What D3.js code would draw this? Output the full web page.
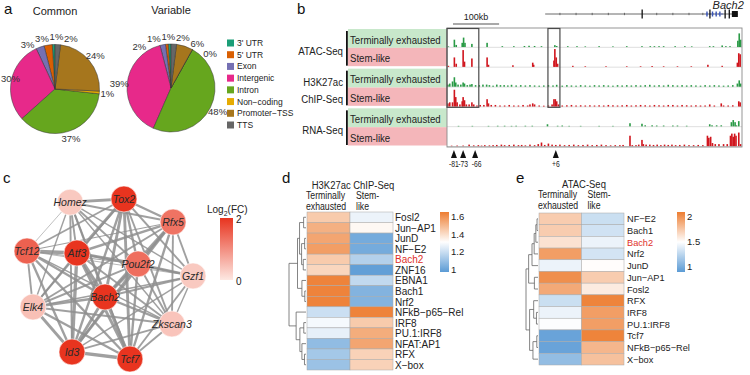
<!DOCTYPE html>
<html><head><meta charset="utf-8">
<script src="https://cdn.jsdelivr.net/npm/d3@7"></script>
<style>
body{margin:0;background:#fff}
svg{display:block}
text{font-family:"Liberation Sans",Arial,Helvetica,sans-serif}
</style>
</head><body>
<svg id="c" width="750" height="375"></svg>
<script>
// ---------------- DATA ----------------
// panel a
const annotCategories = ["3' UTR","5' UTR","Exon","Intergenic","Intron","Non\u2212coding","Promoter\u2212TSS","TTS"];
const commonPct   = [1,3,3,30,37,1,24,2];
const variablePct = [1,1,2,39,48,0,6,2];
const pieTitles = ["Common","Variable"];

// panel b  (positions in kb across the locus, signal heights in arbitrary units)
const trackGroups = ["ATAC-Seq","H3K27ac\nChIP-Seq","RNA-Seq"];
const trackConditions = ["Terminally exhausted","Stem-like"];
const atacTex = [[3,0.6],[16,7],[20,2],[33,4],[36,9],[39,4],[54,3],[87,4],[120,0.8],[145,0.8],[168,1],[178,1.2],[190,1],[205,0.8],[234,1.8],[238,1],[262,0.8],[282,0.8],[300,0.6],[330,0.8],[360,0.6],[390,0.8],[423,0.8],[441,0.8],[450,0.8],[460,0.8],[470,0.8],[495,0.8],[516,0.8],[531,0.6],[570,0.8],[578,0.8],[597,1.5],[605,0.8],[614,0.8],[631,6],[634,13],[637,7]];
const atacStem = [[3,1],[16,9],[20,3],[35,16],[38,5],[54,8],[87,9],[90,2],[143,1.5],[186,4],[188,2],[232,6],[234,17],[237,9],[240,3],[273,1],[300,0.6],[345,0.6],[390,0.6],[420,0.6],[445,0.8],[470,0.6],[500,0.6],[530,0.6],[566,2],[597,1],[630,4],[633,13],[636,12]];
const h3Tex = [[2,2],[6,3],[12,5],[16,9],[19,4],[24,2],[30,2],[35,4],[38,3],[44,1.5],[50,2],[54,2.5],[62,1.5],[70,1.5],[78,2],[86,2],[92,1.5],[100,1],[108,2],[116,1.5],[124,1.5],[132,1.2],[140,1.8],[150,1.2],[160,1.5],[170,1.2],[180,1.5],[190,1.2],[200,1],[210,1.2],[220,1.5],[230,1.2],[238,1.8],[250,1],[260,1.5],[270,1.2],[280,1],[290,1.5],[300,1.2],[310,1],[320,1.5],[330,1.2],[340,1.5],[350,1.2],[360,1],[370,1.5],[380,1.2],[390,1.5],[400,1.2],[410,1.5],[420,1.2],[430,1.5],[440,1.8],[450,1.2],[460,1.5],[470,1.2],[480,1.8],[490,1.5],[500,1.2],[510,1.5],[520,1.2],[530,1.5],[540,1.2],[550,1],[560,1.5],[570,1.2],[580,1.5],[590,1.2],[600,1],[610,1.2],[620,1.5],[630,3],[634,6],[637,3]];
const h3Stem = [[2,3],[6,4],[12,4],[16,16],[19,9],[22,4],[28,2],[33,5],[35,9],[38,6],[42,2],[48,2],[54,4],[58,2],[65,1],[72,1.5],[80,1.5],[87,7],[90,3],[96,1.5],[105,1.5],[115,1],[125,1],[135,1.5],[145,1],[155,1],[165,1.5],[175,1],[180,2],[186,3],[190,2],[200,1],[210,0.8],[220,1],[228,2],[232,7],[235,7],[238,5],[242,2],[250,1],[260,1.2],[270,1.5],[280,1],[290,1.2],[300,1],[310,1.2],[320,1],[330,1.2],[340,1],[350,1.5],[360,1.2],[370,1],[380,1.2],[390,1.5],[400,1],[410,1.2],[420,1.5],[430,1.2],[440,1],[450,1.5],[460,1.2],[470,1],[480,1.5],[490,1.5],[500,1],[510,1.5],[520,1.2],[530,1],[540,1.2],[550,1],[560,1],[570,2],[580,1],[595,3],[600,1],[610,1],[620,1.2],[633,5],[636,4]];
const rnaTex = [[25,0.5],[55,0.5],[90,0.5],[110,0.6],[125,0.6],[140,0.5],[150,0.6],[170,0.6],[185,0.6],[218,2],[240,0.6],[250,0.8],[265,0.5],[290,0.5],[330,0.5],[360,0.5],[397,3],[423,2.5],[430,1],[445,1],[455,0.8],[470,0.8],[490,0.8],[500,0.8],[520,0.6],[570,2],[575,1],[585,1],[595,1],[617,4],[621,6],[625,4],[628,1],[633,5]];
const rnaStem = [[10,0.5],[22,0.6],[35,0.6],[48,1.5],[58,0.8],[68,1],[75,0.6],[82,1],[92,0.8],[100,1],[108,1.2],[118,1.5],[125,1],[135,1.2],[145,1.5],[155,1],[162,1.2],[170,0.8],[180,1.5],[190,1],[198,2],[205,3.5],[212,1.2],[220,2.5],[228,1.5],[236,1.2],[245,1.5],[255,1],[265,1.2],[275,1.5],[285,1],[295,1.2],[305,1.5],[315,1],[325,1.2],[335,1.5],[345,1],[355,0.8],[365,1],[375,1],[382,1.2],[397,10],[402,1],[410,1],[416,1.5],[423,6],[426,2],[432,1.5],[440,1.5],[448,1.2],[456,1.5],[464,1],[472,1.5],[480,1.2],[488,1.5],[496,1],[505,1.2],[515,1.5],[525,1],[535,1],[545,1.2],[555,1],[565,10],[568,8],[572,9],[576,3],[582,2],[590,2],[600,2],[608,2],[615,10],[618,12],[621,9],[624,12],[627,10],[633,13],[637,2]];
const geneSpan = [213,631];
const geneStrandMarks = [245,280,315,350,385,455,490,525,555];
const geneExons = [[422,424,"cds"],[569,571,"cds"],[602,604,"cds"],[611,613,"cds"],[618,631,"utr"]];
const geneMinorExons = [564,576,584,592];
const geneBlueSpan = [562,600];
const highlightRegions = [[0,69],[219,245]];
const enhancerPos = [15,35,61,236];
const enhancerLabels = ["-81","-73","-66","+6"];

// panel c
const tfNodes = ["Homez","Tox2","Rfx5","Tcf12","Atf3","Pou2f2","Gzf1","Bach2","Elk4","Zkscan3","Id3","Tcf7"];
const tfLog2FC = [0.35,2,1.3,1.5,2,1.35,0.35,2,0.45,0.4,2,2];
const nodeLayoutX = [0.26,0.584,0.88,0,0.301,0.669,1,0.47,0.036,0.873,0.271,0.62];
const nodeLayoutY = [0.02,0,0.144,0.325,0.3375,0.406,0.481,0.6125,0.675,0.781,0.956,1];
const tfEdges = [
 ["Homez","Tox2",3],["Homez","Rfx5",2],["Homez","Tcf12",0.7],["Homez","Atf3",2],["Homez","Pou2f2",2],["Homez","Gzf1",1.5],["Homez","Bach2",2],["Homez","Elk4",1.5],["Homez","Zkscan3",1.5],["Homez","Id3",2],["Homez","Tcf7",2],
 ["Tox2","Rfx5",2.5],["Tox2","Tcf12",2],["Tox2","Atf3",3],["Tox2","Pou2f2",2.5],["Tox2","Gzf1",2],["Tox2","Bach2",3],["Tox2","Elk4",2],["Tox2","Zkscan3",2],["Tox2","Id3",2.5],["Tox2","Tcf7",3],
 ["Rfx5","Tcf12",1.2],["Rfx5","Atf3",2.5],["Rfx5","Pou2f2",2.5],["Rfx5","Gzf1",2],["Rfx5","Bach2",3],["Rfx5","Elk4",2],["Rfx5","Zkscan3",2],["Rfx5","Id3",2.5],["Rfx5","Tcf7",2.5],
 ["Tcf12","Atf3",3.5],["Tcf12","Pou2f2",1],["Tcf12","Gzf1",0.8],["Tcf12","Bach2",2.5],["Tcf12","Elk4",2],["Tcf12","Zkscan3",1.5],["Tcf12","Id3",2.5],["Tcf12","Tcf7",2.5],
 ["Atf3","Pou2f2",3],["Atf3","Gzf1",2],["Atf3","Bach2",3.5],["Atf3","Elk4",2],["Atf3","Zkscan3",2],["Atf3","Id3",3.5],["Atf3","Tcf7",3],
 ["Pou2f2","Gzf1",2.5],["Pou2f2","Bach2",3],["Pou2f2","Elk4",2],["Pou2f2","Zkscan3",2],["Pou2f2","Id3",2.5],["Pou2f2","Tcf7",2.5],
 ["Gzf1","Bach2",2],["Gzf1","Elk4",1.5],["Gzf1","Zkscan3",1.5],["Gzf1","Id3",1.5],["Gzf1","Tcf7",2],
 ["Bach2","Elk4",2.5],["Bach2","Zkscan3",2.5],["Bach2","Id3",3],["Bach2","Tcf7",3.5],
 ["Elk4","Zkscan3",2],["Elk4","Id3",3],["Elk4","Tcf7",2.5],
 ["Zkscan3","Id3",2],["Zkscan3","Tcf7",2],["Id3","Tcf7",3.5]
];
const fcTicks = [2,0];

// panel d
const dRows = ["Fosl2","Jun\u2212AP1","JunD","NF\u2212E2","Bach2","ZNF16","EBNA1","Bach1","Nrf2","NFkB\u2212p65\u2212Rel","IRF8","PU.1:IRF8","NFAT:AP1","RFX","X\u2212box"];
const dTex  = [1.45,1.52,1.55,1.57,1.45,1.42,1.64,1.64,1.64,1.20,1.29,1.26,1.08,1.12,1.10];
const dStem = [1.27,1.33,1.02,1.02,1.15,0.98,1.18,1.05,1.05,1.64,1.45,1.53,1.55,1.43,1.43];
const dTicks = [1,1.2,1.4,1.6];
const dTree = {h:1,c:[
  {h:0.5,c:[
    {h:0.38,c:[
      {h:0.14,c:["Fosl2","Jun\u2212AP1"]},
      {h:0.26,c:[{h:0.08,c:["JunD","NF\u2212E2"]},{h:0.16,c:["Bach2","ZNF16"]}]}
    ]},
    {h:0.24,c:["EBNA1",{h:0.07,c:["Bach1","Nrf2"]}]}
  ]},
  {h:0.58,c:[
    "NFkB\u2212p65\u2212Rel",
    {h:0.36,c:[
      {h:0.13,c:["IRF8","PU.1:IRF8"]},
      {h:0.24,c:["NFAT:AP1",{h:0.09,c:["RFX","X\u2212box"]}]}
    ]}
  ]}
]};

// panel e
const eRows = ["NF\u2212E2","Bach1","Bach2","Nrf2","JunD","Jun\u2212AP1","Fosl2","RFX","IRF8","PU.1:IRF8","Tcf7","NFkB\u2212p65\u2212Rel","X\u2212box"];
const eTex  = [1.72,1.72,1.62,1.93,1.42,2.00,1.88,1.30,1.42,1.48,0.95,0.95,1.10];
const eStem = [1.30,1.32,1.42,1.33,1.50,1.72,1.58,2.05,1.93,1.93,2.05,1.82,1.77];
const eTicks = [1,1.5,2];
const eTree = {h:1,c:[
  {h:0.78,c:[
    {h:0.5,c:[
      {h:0.32,c:[{h:0.18,c:[{h:0.08,c:["NF\u2212E2","Bach1"]},"Bach2"]},"Nrf2"]},
      "JunD"
    ]},
    {h:0.3,c:["Jun\u2212AP1","Fosl2"]}
  ]},
  {h:0.7,c:[
    {h:0.36,c:["RFX",{h:0.13,c:["IRF8","PU.1:IRF8"]}]},
    {h:0.42,c:[{h:0.1,c:["Tcf7","NFkB\u2212p65\u2212Rel"]},"X\u2212box"]}
  ]}
]};

// ---------------- DRAWING ----------------
const svg = d3.select("#c");
const defs = svg.append("defs");

function txt(g, x, y, s, o = {}) {
  const t = g.append("text")
    .attr("transform", `translate(${x},${y})` + (o.sx ? ` scale(${o.sx},1)` : ""))
    .attr("font-size", o.size || 10)
    .attr("text-anchor", o.anchor || "start")
    .attr("fill", o.fill || "#222")
    .text(s);
  if (o.italic) t.attr("font-style", "italic");
  if (o.mid) t.attr("dominant-baseline", "central");
  return t;
}

// panel letters
[["a",4,14],["b",297,14],["c",3,183],["d",282,183],["e",516,183]].forEach(([l,x,y]) => txt(svg,x,y,l,{size:15,fill:"#111"}));

// ---- panel a ----
const pieColors = d3.schemeDark2;
const pieGen = d3.pie().sort(null).startAngle(0).endAngle(-2 * Math.PI);
function normAngle(t) { const p = 2 * Math.PI; return ((t + Math.PI) % p + p) % p - Math.PI; }
function drawPie(cx, cy, r, vals, title) {
  const g = svg.append("g").attr("transform", `translate(${cx},${cy})`);
  const arcs = pieGen(vals);
  const arc = d3.arc().innerRadius(0).outerRadius(r);
  g.selectAll("path").data(arcs).join("path")
    .attr("d", arc).attr("fill", (d, i) => pieColors[i])
    .attr("stroke", "#333").attr("stroke-width", 0.5);
  txt(g, 0, -r - 30, title, {size: 11, anchor: "middle", fill: "#222"});
  const R = r + 8;
  const labs = arcs.map((a, i) => {
    const t = g.append("text").attr("font-size", 9.5).attr("fill", "#333")
      .attr("text-anchor", "middle").attr("dominant-baseline", "central").text(vals[i] + "%");
    return {t, th: normAngle((a.startAngle + a.endAngle) / 2), w: t.node().getComputedTextLength(), h: 10.5};
  });
  // angular relaxation so that neighbouring labels do not overlap
  for (let it = 0; it < 400; it++) {
    labs.sort((a, b) => a.th - b.th);
    let moved = false;
    for (let k = 0; k < labs.length - 1; k++) {
      const A = labs[k], B = labs[k + 1];
      const m = (A.th + B.th) / 2;
      const c = Math.max(Math.abs(Math.cos(m)), 1e-3), s = Math.max(Math.abs(Math.sin(m)), 1e-3);
      const need = Math.min(((A.w + B.w) / 2 + 0.8) / c, A.h / s) / R;
      const gap = B.th - A.th;
      if (gap < need - 1e-4) { const d = (need - gap) / 2; A.th -= d; B.th += d; moved = true; }
    }
    if (!moved) break;
  }
  labs.forEach(L => {
    let x = R * Math.sin(L.th), y = -R * Math.cos(L.th);
    x = Math.max(x, -cx + L.w / 2 + 1);
    L.t.attr("x", x).attr("y", y);
  });
}
drawPie(55, 89, 44.5, commonPct, pieTitles[0]);
drawPie(171, 88, 44, variablePct, pieTitles[1]);

const legY = d3.scalePoint().domain(annotCategories).range([43, 125]);
const leg = svg.append("g");
annotCategories.forEach((c, i) => {
  leg.append("rect").attr("x", 227).attr("y", legY(c) - 3.5).attr("width", 7).attr("height", 7).attr("fill", pieColors[i]);
  txt(leg, 237, legY(c), c, {size: 8.5, mid: true, fill: "#222"});
});

// ---- panel b ----
const bx = d3.scaleLinear().domain([0, 640]).range([447, 742]);
const trackList = [atacTex, atacStem, h3Tex, h3Stem, rnaTex, rnaStem];
const band = d3.scaleBand().domain(d3.range(trackList.length)).range([28, 147]);
const bw = band.bandwidth();
const gb = svg.append("g");
const trackColors = ["#2a9a46", "#d0161e"];
const boxColors = ["#c8e8cb", "#f4b6ba"];

defs.append("clipPath").attr("id", "lblclip").append("rect").attr("x", 340).attr("y", 0).attr("width", 107).attr("height", 200);
defs.append("clipPath").attr("id", "trkclip").append("rect").attr("x", 447).attr("y", 28).attr("width", 295).attr("height", 119);

const lblG = gb.append("g").attr("clip-path", "url(#lblclip)");
trackList.forEach((data, i) => {
  const cond = i % 2;
  const top = band(i) + (cond === 0 ? 1 : 0);
  const bot = band(i) + bw - (cond === 1 ? 1.5 : 0);
  lblG.append("rect").attr("x", 348).attr("y", top).attr("width", 99).attr("height", bot - top).attr("fill", boxColors[cond]);
  txt(lblG, 350, (top + bot) / 2 + 1, trackConditions[cond], {size: 11.5, sx: 0.84, mid: true, fill: "#222"});
});
trackGroups.forEach((gname, j) => {
  const top = band(2 * j), bot = band(2 * j + 1) + bw;
  gb.append("rect").attr("x", 346).attr("y", top + 3).attr("width", 1.8).attr("height", bot - top - 5).attr("fill", "#111");
  const lines = gname.split("\n");
  const cy = (top + bot) / 2 + 2.5;
  lines.forEach((ln, k) => {
    txt(gb, 343, cy + (k - (lines.length - 1) / 2) * 16.5, ln, {size: 11.5, sx: 0.84, anchor: "end", mid: true, fill: "#222"});
  });
});

const trkG = gb.append("g").attr("clip-path", "url(#trkclip)");
trackList.forEach((data, i) => {
  const base = band(i) + bw - 0.8;
  const y = d3.scaleLinear().domain([0, 17]).range([base, base - bw + 2]);
  trkG.append("line").attr("x1", 447).attr("x2", 742).attr("y1", base + 0.3).attr("y2", base + 0.3)
    .attr("stroke", "#c9c9c9").attr("stroke-width", 0.6);
  trkG.selectAll(null).data(data).join("rect")
    .attr("x", d => bx(d[0]) - 0.8).attr("width", 1.6)
    .attr("y", d => y(d[1])).attr("height", d => base - y(d[1]))
    .attr("fill", trackColors[i % 2]);
});
gb.append("rect").attr("x", 447).attr("y", 28).attr("width", 295).attr("height", 119)
  .attr("fill", "none").attr("stroke", "#8a8a8a").attr("stroke-width", 0.9);
highlightRegions.forEach(([a, b]) => {
  gb.append("rect").attr("x", bx(a)).attr("y", 28.5).attr("width", bx(b) - bx(a)).attr("height", band(3) + bw - 28.5)
    .attr("fill", "none").attr("stroke", "#4a4a4a").attr("stroke-width", 1.2);
});
// scale bar
gb.append("line").attr("x1", bx(13)).attr("x2", bx(113)).attr("y1", 24).attr("y2", 24).attr("stroke", "#555").attr("stroke-width", 1.2);
txt(gb, bx(63), 20, "100kb", {size: 9, anchor: "middle"});
// gene model
gb.append("line").attr("x1", bx(geneSpan[0])).attr("x2", bx(geneSpan[1])).attr("y1", 14).attr("y2", 14).attr("stroke", "#444").attr("stroke-width", 0.8);
geneStrandMarks.forEach(k => gb.append("line").attr("x1", bx(k)).attr("x2", bx(k)).attr("y1", 12.8).attr("y2", 15.2).attr("stroke", "#444").attr("stroke-width", 0.7));
gb.append("line").attr("x1", bx(geneBlueSpan[0])).attr("x2", bx(geneBlueSpan[1])).attr("y1", 14).attr("y2", 14).attr("stroke", "#5a6fc0").attr("stroke-width", 1).attr("stroke-dasharray", "2,1");
geneMinorExons.forEach(k => gb.append("rect").attr("x", bx(k) - 0.7).attr("y", 11.5).attr("width", 1.4).attr("height", 5).attr("fill", "#3a55b5"));
geneExons.forEach(([a, b, t]) => {
  const h = t === "cds" ? 9 : 6;
  gb.append("rect").attr("x", bx(a)).attr("y", 14 - h / 2).attr("width", Math.max(1.3, bx(b) - bx(a))).attr("height", h).attr("fill", "#111");
});
txt(gb, bx(610), 9, "Bach2", {size: 11, italic: true, anchor: "middle", fill: "#222"});
// enhancer arrows
enhancerPos.forEach((k, i) => {
  const x = bx(k);
  gb.append("path").attr("d", `M${x - 3},158 L${x},150 L${x + 3},158 Z`).attr("fill", "#111");
  txt(gb, x + (i === 2 ? 1.5 : 0), 167, enhancerLabels[i], {size: 8.5, sx: 0.8, anchor: "middle"});
});

// ---- panel c ----
const gc = svg.append("g");
const nx = d3.scaleLinear().domain([0, 1]).range([27, 193]);
const ny = d3.scaleLinear().domain([0, 1]).range([199, 359]);
const fcColor = d3.scaleLinear().domain([0, 2]).range(["#fde8e2", "#e8341f"]);
const nodeIdx = new Map(tfNodes.map((n, i) => [n, i]));
gc.selectAll("line.edge").data(tfEdges).join("line").attr("class", "edge")
  .attr("x1", d => nx(nodeLayoutX[nodeIdx.get(d[0])])).attr("y1", d => ny(nodeLayoutY[nodeIdx.get(d[0])]))
  .attr("x2", d => nx(nodeLayoutX[nodeIdx.get(d[1])])).attr("y2", d => ny(nodeLayoutY[nodeIdx.get(d[1])]))
  .attr("stroke", "#8f8f8f").attr("stroke-opacity", 0.85).attr("stroke-width", d => d[2] * 0.95);
tfNodes.forEach((n, i) => {
  const x = nx(nodeLayoutX[i]), y = ny(nodeLayoutY[i]);
  gc.append("circle").attr("cx", x).attr("cy", y).attr("r", 13).attr("fill", fcColor(tfLog2FC[i])).attr("stroke", "#fff").attr("stroke-width", 0.6);
  txt(gc, x, y, n, {size: 10.5, italic: true, anchor: "middle", mid: true, fill: "#2a2a2a"});
});
const grad = defs.append("linearGradient").attr("id", "fcgrad").attr("x1", 0).attr("y1", 0).attr("x2", 0).attr("y2", 1);
grad.append("stop").attr("offset", "0%").attr("stop-color", fcColor(2));
grad.append("stop").attr("offset", "100%").attr("stop-color", fcColor(0));
const fcY = d3.scaleLinear().domain([2, 0]).range([218, 280]);
gc.append("rect").attr("x", 220).attr("y", fcY(2)).attr("width", 13).attr("height", fcY(0) - fcY(2)).attr("fill", "url(#fcgrad)");
const lt = gc.append("text").attr("x", 207).attr("y", 213).attr("font-size", 10).attr("fill", "#222");
lt.append("tspan").text("Log");
lt.append("tspan").attr("font-size", 7).attr("dy", 3).text("2");
lt.append("tspan").attr("dy", -3).text("(FC)");
fcTicks.forEach(v => txt(gc, 236, fcY(v) + 5, String(v), {size: 10}));

// ---- heatmaps ----
function layoutTree(node, rowY, hx, lines) {
  if (typeof node === "string") return {x: hx(0), y: rowY(node)};
  const kids = node.c.map(k => layoutTree(k, rowY, hx, lines));
  const x = hx(node.h);
  const ys = kids.map(k => k.y);
  lines.push([x, d3.min(ys), x, d3.max(ys)]);
  kids.forEach(k => lines.push([x, k.y, k.x, k.y]));
  return {x, y: (d3.min(ys) + d3.max(ys)) / 2};
}
function drawHeat(o) {
  const g = svg.append("g");
  const ry = d3.scaleBand().domain(o.rows).range(o.yr);
  const cx = d3.scaleBand().domain(["T", "S"]).range(o.xr);
  const color = d3.scaleLinear().domain(o.cdom).range(["#5b9bd5", "#ffffff", "#ed7d31"]);
  o.rows.forEach((r, i) => {
    [["T", o.tv[i]], ["S", o.sv[i]]].forEach(([c, v]) => {
      g.append("rect").attr("x", cx(c)).attr("y", ry(r)).attr("width", cx.bandwidth()).attr("height", ry.bandwidth())
        .attr("fill", color(v)).attr("stroke", "#a8a8a8").attr("stroke-width", 0.5);
    });
    txt(g, o.labelX, ry(r) + ry.bandwidth() / 2 + 0.5, r, {size: o.lsize, mid: true, fill: r === "Bach2" ? "#e0302a" : "#222"});
  });
  const lines = [];
  const hx = d3.scaleLinear().domain([0, 1]).range([o.xr[0] - 1, o.dendroRoot]);
  layoutTree(o.tree, r => ry(r) + ry.bandwidth() / 2, hx, lines);
  g.selectAll("line.dd").data(lines).join("line").attr("class", "dd")
    .attr("x1", d => d[0]).attr("y1", d => d[1]).attr("x2", d => d[2]).attr("y2", d => d[3])
    .attr("stroke", "#666").attr("stroke-width", 0.8);
  txt(g, o.titleX, o.titleY, o.title, {size: 11, sx: 0.86, anchor: "middle", fill: "#222"});
  txt(g, cx("T") - 1, o.titleY + 10, "Terminally", {size: 10, sx: 0.87});
  txt(g, cx("T") - 1, o.titleY + 20.5, "exhausted", {size: 10, sx: 0.87});
  txt(g, cx("S") + 6, o.titleY + 10, "Stem-", {size: 10, sx: 0.87});
  txt(g, cx("S") + 6, o.titleY + 20.5, "like", {size: 10, sx: 0.87});
  // colorbar
  const cy = d3.scaleLinear().domain([o.cdom[0], o.cdom[2]]).range([272, 212]);
  const gid = "cb" + o.id;
  const gr = defs.append("linearGradient").attr("id", gid).attr("x1", 0).attr("y1", 1).attr("x2", 0).attr("y2", 0);
  d3.range(0, 1.0001, 0.1).forEach(t => {
    const v = o.cdom[0] + t * (o.cdom[2] - o.cdom[0]);
    gr.append("stop").attr("offset", (t * 100) + "%").attr("stop-color", color(v));
  });
  g.append("rect").attr("x", o.cbX).attr("y", 212).attr("width", o.cbW).attr("height", 60).attr("fill", `url(#${gid})`);
  o.ticks.forEach(v => txt(g, o.cbX + o.cbW + 2, cy(v), String(v), {size: 9.5, mid: true}));
}
drawHeat({id: "d", rows: dRows, tv: dTex, sv: dStem, tree: dTree, yr: [212, 370], xr: [307, 393], labelX: 395, lsize: 10,
  dendroRoot: 289, cdom: [0.966, 1.31, 1.657], title: "H3K27ac ChIP-Seq", titleX: 353, titleY: 189,
  cbX: 440, cbW: 9, ticks: dTicks});
drawHeat({id: "e", rows: eRows, tv: eTex, sv: eStem, tree: eTree, yr: [213, 365], xr: [539, 624], labelX: 627, lsize: 9.2,
  dendroRoot: 526, cdom: [0.9, 1.49, 2.08], title: "ATAC-Seq", titleX: 584, titleY: 188,
  cbX: 677, cbW: 8, ticks: eTicks});
</script>
</body></html>
